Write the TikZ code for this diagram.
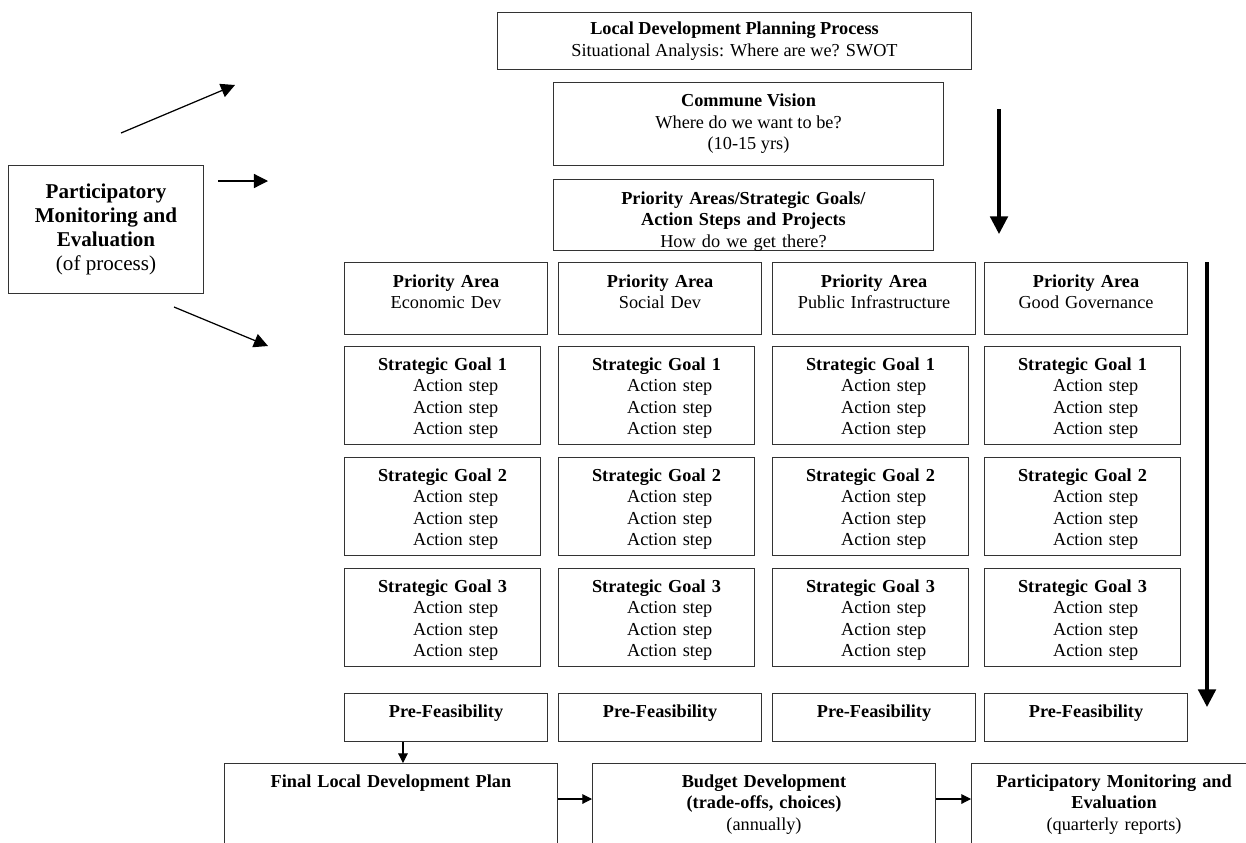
\documentclass[tikz,border=0pt]{standalone}
\usepackage{fontspec}
\setmainfont{Liberation Serif}
\usepackage{tikz}
\usetikzlibrary{arrows.meta, positioning}
\newcommand{\actstep}{\hspace*{15pt}Action step}

\begin{document}
\begin{tikzpicture}[
  x=0.02cm, y=-0.02cm,
  every node/.style={font=\fontsize{10.4pt}{12.2pt}\selectfont},
  box/.style={draw=black!80, line width=0.6pt, align=center, inner sep=0pt,
              anchor=north west},
  topbox/.style={box, text height=0.48cm},
  areabox/.style={topbox, text width=4.06cm, text height=0.5cm, text depth=0.94cm},
  goalbox/.style={topbox, text width=3.92cm, text depth=1.48cm},
  feasbox/.style={topbox, text width=4.06cm, text depth=0.48cm},
  planbox/.style={topbox, text depth=1.6cm},
  arr/.style={-{Triangle[length=8pt, width=8pt]}, line width=0.7pt},
  bigarr/.style={-{Triangle[length=10pt, width=10pt]}, line width=1.8pt},
  smallarr/.style={-{Triangle[length=5.5pt, width=5.5pt]}, line width=0.6pt},
]
  \useasboundingbox (0,0) rectangle (1246,842);

  % planning process
  \node[box, minimum width=9.48cm, minimum height=1.14cm] (ldpp) at (497,12)
       {\textbf{Local Development Planning Process}\\Situational Analysis: Where are we? SWOT};
  \node[box, minimum width=7.8cm, minimum height=1.66cm] (vision) at (553,82)
       {\textbf{Commune Vision}\\Where do we want to be?\\(10-15 yrs)};
  \node[topbox, text width=7.6cm, text height=0.5cm, text depth=0.92cm] (steps) at (553,179)
       {\textbf{Priority Areas/Strategic Goals/}\\\textbf{Action Steps and Projects}\\How do we get there?};

  % monitoring of process
  \node[box, minimum width=3.9cm, minimum height=2.56cm,
        font=\fontsize{12pt}{13.6pt}\selectfont] (pme) at (8,165)
       {\textbf{Participatory}\\\textbf{Monitoring and}\\\textbf{Evaluation}\\(of process)};

  % priority areas, goals and pre-feasibility
  \foreach \x/\name/\area in {344/eco/Economic Dev, 558/soc/Social Dev,
                              772/pub/Public Infrastructure, 984/gov/Good Governance} {
    \node[areabox] (area-\name) at (\x,262) {\textbf{Priority Area}\\\area};
    \foreach \g/\y in {1/346, 2/457, 3/568}
      \node[goalbox] (goal\g-\name) at (\x,\y)
           {\textbf{Strategic Goal \g}\\\actstep\\\actstep\\\actstep};
    \node[feasbox] (feas-\name) at (\x,693) {\textbf{Pre-Feasibility}};
  }

  % final plan, budget, reports
  \node[planbox, text width=6.66cm] (final) at (224,763)
       {\textbf{Final Local Development Plan}};
  \node[planbox, text width=6.86cm] (budget) at (592,763)
       {\textbf{Budget Development}\\\textbf{(trade-offs, choices)}\\(annually)};
  \node[planbox, text width=5.7cm] (report) at (971,763)
       {\textbf{Participatory Monitoring and}\\\textbf{Evaluation}\\(quarterly reports)};

  % free arrow ends
  \coordinate (up-s) at (121,133);   \coordinate (up-e) at (235,85);
  \coordinate (mid-s) at (218,181);  \coordinate (mid-e) at (268,181);
  \coordinate (low-s) at (174,307);  \coordinate (low-e) at (268,346);
  \coordinate (flow-s) at (999,109); \coordinate (flow-e) at (999,234);
  \coordinate (long-s) at (1207,262); \coordinate (long-e) at (1207,707);

  % Connections
  \draw[arr] (up-s) -- (up-e);
  \draw[arr] (mid-s) -- (mid-e);
  \draw[arr] (low-s) -- (low-e);
  \draw[bigarr] (flow-s) -- (flow-e);
  \draw[bigarr] (long-s) -- (long-e);
  \draw[smallarr] ([xshift=1.18cm]feas-eco.south west) -- ([xshift=1.18cm]feas-eco.south west |- final.north);
  \draw[smallarr] ([yshift=-0.72cm]final.north east) -- ([yshift=-0.72cm]budget.north west);
  \draw[smallarr] ([yshift=-0.72cm]budget.north east) -- ([yshift=-0.72cm]report.north west);
\end{tikzpicture}
\end{document}
